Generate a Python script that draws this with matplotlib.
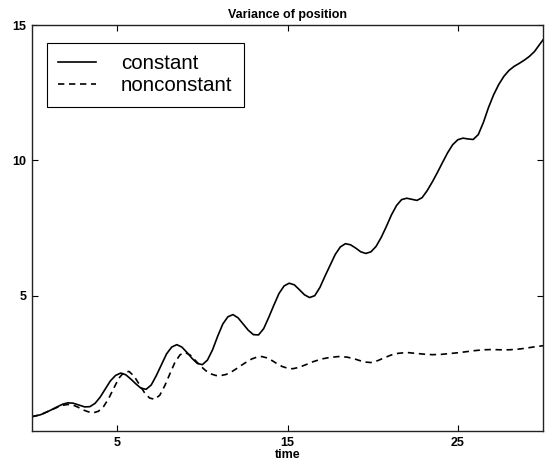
import matplotlib
matplotlib.use("Agg")
import matplotlib.pyplot as plt

plt.rcParams['font.family'] = ['Liberation Sans', 'DejaVu Sans']

# Variance of position over time, constant case
t_const = [0.0, 0.5, 1.0, 1.5, 1.8, 2.1, 2.4, 2.8, 3.1, 3.4, 3.7, 4.0, 4.3, 4.6,
           4.9, 5.2, 5.5, 5.8, 6.1, 6.4, 6.7, 7.0, 7.3, 7.6, 7.9, 8.2, 8.5, 8.8,
           9.1, 9.4, 9.7, 10.0, 10.3, 10.6, 10.9, 11.2, 11.5, 11.8, 12.1, 12.4,
           12.7, 13.0, 13.3, 13.6, 13.9, 14.2, 14.5, 14.8, 15.1, 15.4, 15.7, 16.0,
           16.3, 16.6, 16.9, 17.2, 17.5, 17.8, 18.1, 18.4, 18.7, 19.0, 19.3, 19.6,
           19.9, 20.2, 20.5, 20.8, 21.1, 21.4, 21.7, 22.0, 22.3, 22.6, 22.9, 23.2,
           23.5, 23.8, 24.1, 24.4, 24.7, 25.0, 25.3, 25.6, 25.9, 26.2, 26.5, 26.8,
           27.1, 27.4, 27.7, 28.0, 28.3, 28.6, 28.9, 29.2, 29.5, 29.8, 30.0]
v_const = [0.53, 0.6, 0.74, 0.9, 0.99, 1.04, 1.03, 0.95, 0.89, 0.9, 1.02, 1.25,
           1.55, 1.85, 2.05, 2.14, 2.08, 1.92, 1.74, 1.58, 1.54, 1.7, 2.05, 2.45,
           2.85, 3.1, 3.19, 3.1, 2.9, 2.68, 2.5, 2.45, 2.62, 3.0, 3.5, 3.95, 4.22,
           4.3, 4.18, 3.95, 3.72, 3.56, 3.55, 3.78, 4.2, 4.65, 5.08, 5.36, 5.46,
           5.4, 5.22, 5.03, 4.93, 5.0, 5.3, 5.72, 6.12, 6.52, 6.8, 6.92, 6.88,
           6.76, 6.62, 6.56, 6.62, 6.82, 7.15, 7.55, 7.98, 8.33, 8.55, 8.6, 8.56,
           8.52, 8.62, 8.88, 9.2, 9.55, 9.92, 10.28, 10.58, 10.76, 10.82, 10.79,
           10.77, 10.95, 11.4, 11.95, 12.42, 12.8, 13.1, 13.32, 13.47, 13.58, 13.7,
           13.84, 14.02, 14.28, 14.45]

# Variance of position over time, nonconstant case
t_nonconst = [0.0, 0.5, 1.0, 1.5, 1.8, 2.1, 2.4, 2.7, 3.0, 3.3, 3.6, 3.9, 4.2,
              4.5, 4.8, 5.1, 5.4, 5.7, 6.0, 6.3, 6.6, 6.9, 7.2, 7.5, 7.8, 8.1,
              8.4, 8.7, 9.0, 9.3, 9.6, 9.9, 10.2, 10.5, 10.8, 11.1, 11.4, 11.7,
              12.0, 12.3, 12.6, 12.9, 13.2, 13.5, 13.8, 14.1, 14.4, 14.7, 15.0,
              15.3, 15.6, 16.0, 16.5, 17.0, 17.5, 18.0, 18.5, 19.0, 19.5, 19.9,
              20.3, 20.7, 21.1, 21.5, 22.0, 22.5, 23.0, 23.5, 24.0, 24.5, 25.0,
              25.5, 26.0, 26.5, 27.0, 27.5, 28.0, 28.5, 29.0, 29.5, 30.0]
v_nonconst = [0.53, 0.6, 0.74, 0.88, 0.95, 0.98, 0.96, 0.88, 0.78, 0.71, 0.67,
              0.73, 0.9, 1.2, 1.58, 1.95, 2.17, 2.2, 2.02, 1.72, 1.42, 1.22, 1.17,
              1.32, 1.68, 2.12, 2.55, 2.82, 2.9, 2.8, 2.6, 2.4, 2.23, 2.11, 2.05,
              2.05, 2.09, 2.18, 2.3, 2.43, 2.55, 2.66, 2.73, 2.75, 2.7, 2.6, 2.48,
              2.38, 2.32, 2.3, 2.34, 2.43, 2.56, 2.66, 2.72, 2.75, 2.73, 2.65, 2.55,
              2.53, 2.6, 2.71, 2.81, 2.87, 2.9, 2.87, 2.84, 2.82, 2.83, 2.86, 2.89,
              2.93, 2.97, 3.0, 3.01, 3.0, 3.0, 3.02, 3.06, 3.11, 3.15]

x_ticks = [5, 15, 25]
y_ticks = [5, 10, 15]

fig = plt.figure(figsize=(5.46, 4.65), dpi=100)
ax = fig.add_axes([32 / 546, 34 / 465, 511 / 546, 406 / 465])

ax.plot(t_const, v_const, color='black', lw=1.2, label='constant')
ax.plot(t_nonconst, v_nonconst, color='black', lw=1.2, linestyle=(0, (3.8, 2.8)),
        label='nonconstant')

ax.set_xlim(0, 30)
ax.set_ylim(0, 15)
ax.set_xticks(x_ticks)
ax.set_yticks(y_ticks)
ax.tick_params(direction='in', top=True, right=True, length=4, width=0.8,
               labelsize=9, pad=4)
for lbl in ax.get_xticklabels() + ax.get_yticklabels():
    lbl.set_fontweight('bold')
for sp in ax.spines.values():
    sp.set_linewidth(1.0)
    sp.set_color('#222222')

ax.set_title('Variance of position', fontsize=9, fontweight='bold', pad=5)
ax.set_xlabel('time', fontsize=9, fontweight='bold', labelpad=0)

leg = ax.legend(loc='upper left', bbox_to_anchor=(15 / 511, 1 - 18 / 406),
                fontsize=14.8, frameon=True, fancybox=False, edgecolor='black',
                framealpha=1, labelspacing=0.15, handlelength=1.85,
                handletextpad=1.2, borderpad=0.55, borderaxespad=0)
leg.get_frame().set_linewidth(0.8)

fig.savefig('out.png', dpi=100)
